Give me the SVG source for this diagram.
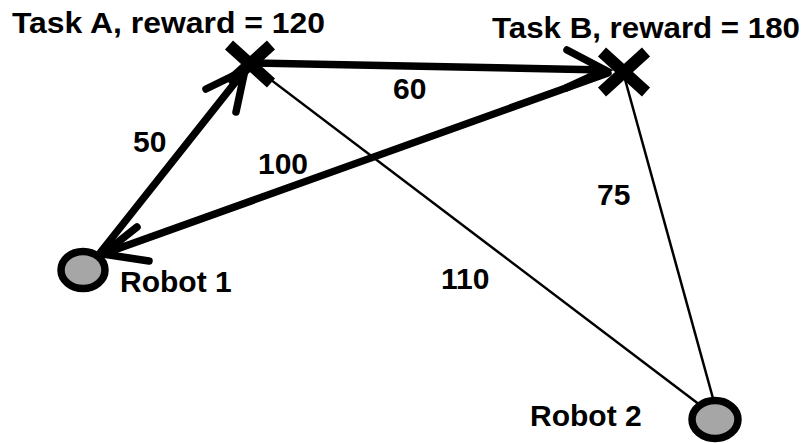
<svg xmlns="http://www.w3.org/2000/svg" width="806" height="443" viewBox="0 0 806 443">
<style>
.thick{stroke:#000;stroke-width:7.5;stroke-linecap:round;fill:none}
.thin{stroke:#000;stroke-width:2.5;fill:none}
.x{stroke:#000;stroke-width:12;stroke-linecap:butt;fill:none}
.robot{fill:#a6a6a6;stroke:#000;stroke-width:7.5}
.lbl{font-family:"Liberation Sans",Arial,sans-serif;font-weight:bold;font-size:30px;fill:#000}
.ttl{font-family:"Liberation Sans",Arial,sans-serif;font-weight:bold;font-size:30px;fill:#000}
</style>
<rect width="806" height="443" fill="#fff"/>
<g id="connectors">
<line class="thin" x1="250" y1="64" x2="700" y2="405"/>
<line class="thin" x1="623" y1="72" x2="714" y2="402"/>
<path class="thick" d="M100,253 L245,70 M206,89 L245,70 L236,112"/>
<path class="thick" d="M252,63 L605,70 M567,50 L605,70 L566,88"/>
<path class="thick" d="M608,73 L103,254 M137,227 L103,254 L149,261"/>
</g>
<g id="taskA">
<path class="x" d="M229,45 L271,83 M271,45 L229,83"/>
<text class="ttl" x="12" y="33" textLength="313" lengthAdjust="spacingAndGlyphs">Task A, reward = 120</text>
</g>
<g id="taskB">
<path class="x" d="M602,52 L646,92 M646,52 L602,92"/>
<text class="ttl" x="492" y="38" textLength="308" lengthAdjust="spacingAndGlyphs">Task B, reward = 180</text>
</g>
<g id="robot1">
<ellipse class="robot" cx="83" cy="270" rx="22" ry="18.5"/>
<text class="lbl" x="120" y="292">Robot 1</text>
</g>
<g id="robot2">
<ellipse class="robot" cx="715" cy="419.5" rx="23" ry="19"/>
<text class="lbl" x="530" y="426">Robot 2</text>
</g>
<g id="labels">
<text class="lbl" x="393" y="99">60</text>
<text class="lbl" x="133" y="152">50</text>
<text class="lbl" x="258" y="174">100</text>
<text class="lbl" x="597" y="205">75</text>
<text class="lbl" x="441" y="289">110</text>
</g>
</svg>
